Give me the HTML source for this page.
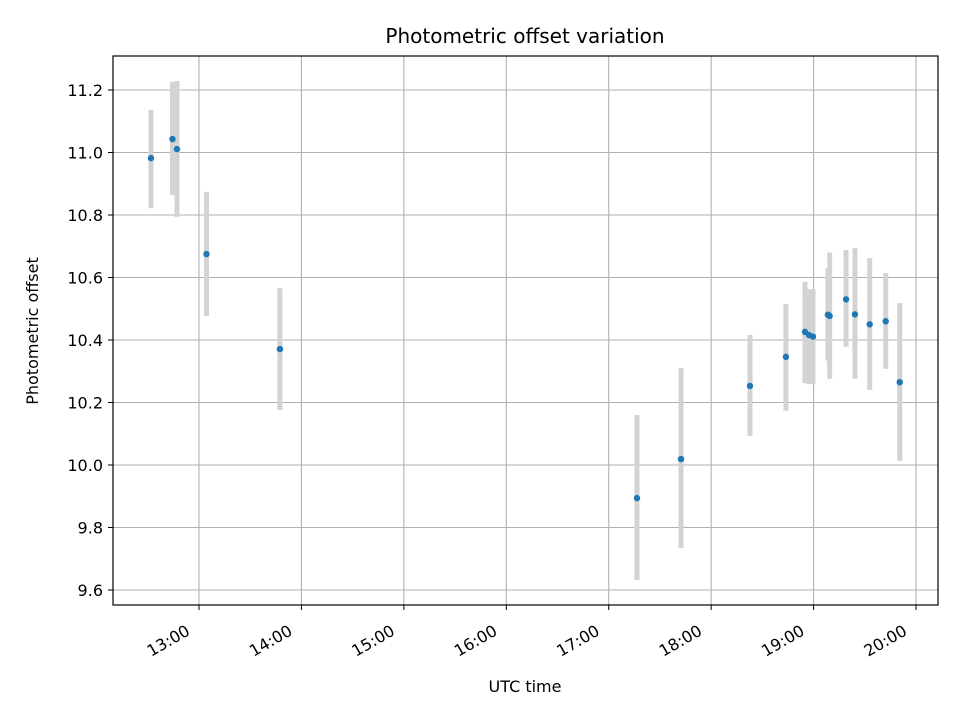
<!DOCTYPE html>
<html><head><meta charset="utf-8"><style>
html,body{margin:0;padding:0;background:#fff;}
svg{display:block;font-family:"DejaVu Sans","Liberation Sans",sans-serif;}
</style></head><body>
<svg id="chart" width="960" height="720" viewBox="0 0 960 720" xmlns="http://www.w3.org/2000/svg">
<rect width="960" height="720" fill="#fff"/>
<g id="grid"></g>
<g id="errs"></g>
<g id="pts"></g>
<rect x="113" y="56" width="825" height="549" fill="none" stroke="#000" stroke-width="1.2"/>
<g id="ticks"></g>
<text x="525" y="43" text-anchor="middle" font-size="20">Photometric offset variation</text>
<text x="525" y="692" text-anchor="middle" font-size="16">UTC time</text>
<text transform="translate(38,331) rotate(-90)" text-anchor="middle" font-size="16">Photometric offset</text>
</svg>
<script>
const times = [12.531,12.741,12.785,13.073,13.79,17.276,17.706,18.379,18.73,18.916,18.955,18.994,19.14,19.157,19.317,19.404,19.548,19.704,19.841];
const offsets = [10.982,11.043,11.011,10.675,10.371,9.894,10.019,10.253,10.346,10.426,10.416,10.411,10.481,10.477,10.53,10.482,10.45,10.46,10.265];
const upper = [11.136,11.226,11.229,10.874,10.566,10.16,10.31,10.416,10.515,10.586,10.563,10.563,10.63,10.68,10.688,10.694,10.662,10.614,10.518];
const lower = [10.822,10.864,10.794,10.477,10.176,9.632,9.734,10.093,10.174,10.262,10.259,10.259,10.334,10.276,10.379,10.276,10.24,10.308,10.013];
const xTicks = [13,14,15,16,17,18,19,20];
const xTickLabels = ["13:00","14:00","15:00","16:00","17:00","18:00","19:00","20:00"];
const yTicks = [9.6,9.8,10.0,10.2,10.4,10.6,10.8,11.0,11.2];
const yTickLabels = ["9.6","9.8","10.0","10.2","10.4","10.6","10.8","11.0","11.2"];

const NS="http://www.w3.org/2000/svg";
const L=113,R=938,T=56,B=605;
function xs(h){return 199+(h-13)*102.43;}
function ys(v){return 590-(v-9.6)*312.5;}
function mk(tag,attrs,parent){const e=document.createElementNS(NS,tag);for(const k in attrs)e.setAttribute(k,attrs[k]);parent.appendChild(e);return e;}
const grid=document.getElementById('grid'),ticks=document.getElementById('ticks'),errs=document.getElementById('errs'),pts=document.getElementById('pts');
xTicks.forEach((t,i)=>{
  const x=xs(t);
  const g=mk('line',{x1:x,x2:x,y1:T,y2:B,stroke:'#b0b0b0','stroke-width':1.1},grid);
  
  
  const tk=mk('line',{x1:x,x2:x,y1:B,y2:B+5,stroke:'#000','stroke-width':1},ticks);
  
  
  const tx=mk('text',{transform:`translate(${x-8},${B+29}) rotate(-30)`,'text-anchor':'end','font-size':16},ticks);
  tx.textContent=xTickLabels[i];
  
  
});
yTicks.forEach((t,i)=>{
  const y=ys(t);
  const g=mk('line',{x1:L,x2:R,y1:y,y2:y,stroke:'#b0b0b0','stroke-width':1.1},grid);
  
  
  const tk=mk('line',{x1:L-5,x2:L,y1:y,y2:y,stroke:'#000','stroke-width':1},ticks);
  
  
  const tx=mk('text',{x:L-10,y:y+6,'text-anchor':'end','font-size':16},ticks);
  tx.textContent=yTickLabels[i];
  
  
});
times.forEach((t,i)=>{
  const x=xs(t);
  const e=mk('line',{x1:x,x2:x,y1:ys(upper[i]),y2:ys(lower[i]),stroke:'#d3d3d3','stroke-width':5},errs);
  
  
  const c=mk('circle',{cx:x,cy:ys(offsets[i]),r:3.2,fill:'#1f77b4'},pts);
  
  
});
</script>
</body></html>
